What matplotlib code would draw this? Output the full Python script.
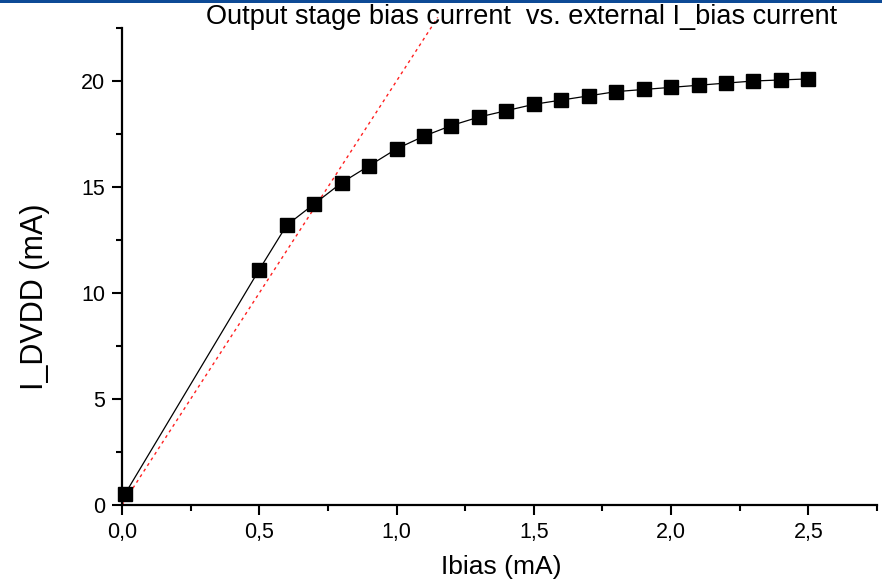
import matplotlib
matplotlib.use("Agg")
import matplotlib.pyplot as plt
from matplotlib.ticker import MultipleLocator, FuncFormatter
from matplotlib.patches import Rectangle

plt.rcParams['font.family'] = ['Liberation Sans', 'DejaVu Sans']

# Data
ibias = [0.01, 0.5, 0.6, 0.7, 0.8, 0.9, 1.0, 1.1, 1.2, 1.3, 1.4, 1.5, 1.6,
         1.7, 1.8, 1.9, 2.0, 2.1, 2.2, 2.3, 2.4, 2.5]
i_dvdd = [0.5, 11.1, 13.2, 14.2, 15.2, 16.0, 16.8, 17.4, 17.9, 18.3, 18.6,
          18.9, 19.1, 19.3, 19.5, 19.6, 19.7, 19.8, 19.9, 20.0, 20.05, 20.1]
ideal_x = [0.0, 1.15]
ideal_slope = 20.0
ideal_y = [ideal_slope * v for v in ideal_x]

title = "Output stage bias current  vs. external I_bias current"

fig = plt.figure(figsize=(8.82, 5.80), dpi=100)
ax = fig.add_axes([122/882, 1 - 505/580, (877 - 122)/882, (505 - 28)/580])

ax.plot(ideal_x, ideal_y, color='#ff2020', lw=1.0, linestyle=(0, (2.2, 2.6)),
        zorder=2, clip_on=False)
ax.plot(ibias, i_dvdd, color='black', lw=0.9, marker='s', markersize=9.5,
        markerfacecolor='black', markeredgecolor='black', zorder=3, clip_on=False)

ax.set_xlim(0, 2.75)
ax.set_ylim(0, 22.5)

for s in ['top', 'right']:
    ax.spines[s].set_visible(False)
for s in ['left', 'bottom']:
    ax.spines[s].set_linewidth(1.6)

ax.xaxis.set_major_locator(MultipleLocator(0.5))
ax.xaxis.set_minor_locator(MultipleLocator(0.25))
ax.yaxis.set_major_locator(MultipleLocator(5))
ax.yaxis.set_minor_locator(MultipleLocator(2.5))
ax.xaxis.set_major_formatter(FuncFormatter(lambda v, p: f"{v:.1f}".replace('.', ',')))
ax.yaxis.set_major_formatter(FuncFormatter(lambda v, p: f"{v:.0f}"))

ax.tick_params(which='major', direction='out', length=7, width=1.5, labelsize=15.5, pad=5)
ax.tick_params(which='minor', direction='out', length=4, width=1.5)

ax.set_xlabel("Ibias (mA)", fontsize=19)
ax.xaxis.set_label_coords(501/882, 1 - 567/580, transform=fig.transFigure)
ax.xaxis.label.set_va('center')
ax.set_ylabel("I_DVDD (mA)", fontsize=22)
ax.yaxis.set_label_coords(35/882, 1 - 297/580, transform=fig.transFigure)
ax.yaxis.label.set_va('center')

# Header bar and title
fig.add_artist(Rectangle((0, 1 - 3/580), 1, 3/580, transform=fig.transFigure,
                         facecolor='#0d4a96', edgecolor='none'))
fig.text(522/882, 1 - 17/580, title, fontsize=19.5, ha='center', va='center')

fig.savefig("out.png", dpi=100)
